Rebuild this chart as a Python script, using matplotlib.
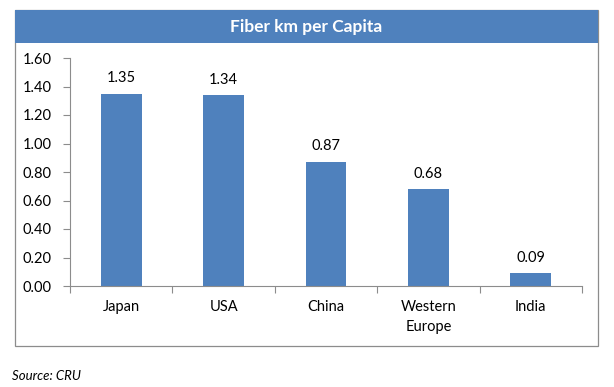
import numpy as np
import matplotlib
matplotlib.use("Agg")
import matplotlib.pyplot as plt
from matplotlib.patches import Rectangle

# Data
regions = ["Japan", "USA", "China", "Western\nEurope", "India"]
fiber_km = [1.35, 1.34, 0.87, 0.68, 0.09]
y_ticks = [0.0, 0.2, 0.4, 0.6, 0.8, 1.0, 1.2, 1.4, 1.6]

blue = "#4F81BD"
plt.rcParams["font.family"] = ["Lato", "DejaVu Sans"]

fig = plt.figure(figsize=(6.14, 3.87), dpi=100)
W, H = 614, 387

# Outer frame and title bar
fig.patches.append(Rectangle((15 / W, 1 - 346 / H), 583 / W, 336 / H,
                             transform=fig.transFigure, facecolor="white",
                             edgecolor="#8C8C8C", linewidth=0.9, zorder=0))
fig.patches.append(Rectangle((15 / W, 1 - 43 / H), 583 / W, 33 / H,
                             transform=fig.transFigure, facecolor=blue,
                             edgecolor="none", zorder=1))
fig.text(306 / W, 1 - 27 / H, "Fiber km per Capita", color="white",
         fontsize=12.5, fontweight="bold", ha="center", va="center")

ax = fig.add_axes([70 / W, 1 - 286 / H, 512 / W, 228 / H])
ax.set_zorder(5)
ax.patch.set_alpha(0)

x = np.arange(len(regions))
bars = ax.bar(x, fiber_km, width=0.4, color=blue)
for b, v in zip(bars, fiber_km):
    ax.text(b.get_x() + b.get_width() / 2, v + 0.06, f"{v:.2f}",
            ha="center", va="bottom", fontsize=10.5)

ax.set_xlim(-0.5, len(regions) - 0.5)
ax.set_ylim(0, 1.6)
ax.set_yticks(y_ticks)
ax.set_yticklabels([f"{t:.2f}" for t in y_ticks], fontsize=10.5)

# category labels centred, tick marks on the boundaries
ax.set_xticks(np.arange(len(regions) + 1) - 0.5)
ax.set_xticklabels([])
ax.set_xticks(x, minor=True)
ax.set_xticklabels(regions, minor=True, fontsize=10.5, linespacing=1.6)
ax.tick_params(axis="x", which="minor", length=0, pad=10)
ax.tick_params(axis="x", which="major", length=5, direction="out", color="#8C8C8C")
ax.tick_params(axis="y", length=5, direction="out", color="#8C8C8C", pad=8)

for s in ["top", "right"]:
    ax.spines[s].set_visible(False)
ax.spines["left"].set_color("#8C8C8C")
ax.spines["bottom"].set_color("#8C8C8C")

fig.text(12 / W, 1 - 376 / H, "Source: CRU", fontsize=9.5, style="italic",
         ha="left", va="center")

fig.savefig("out.png", dpi=100)
